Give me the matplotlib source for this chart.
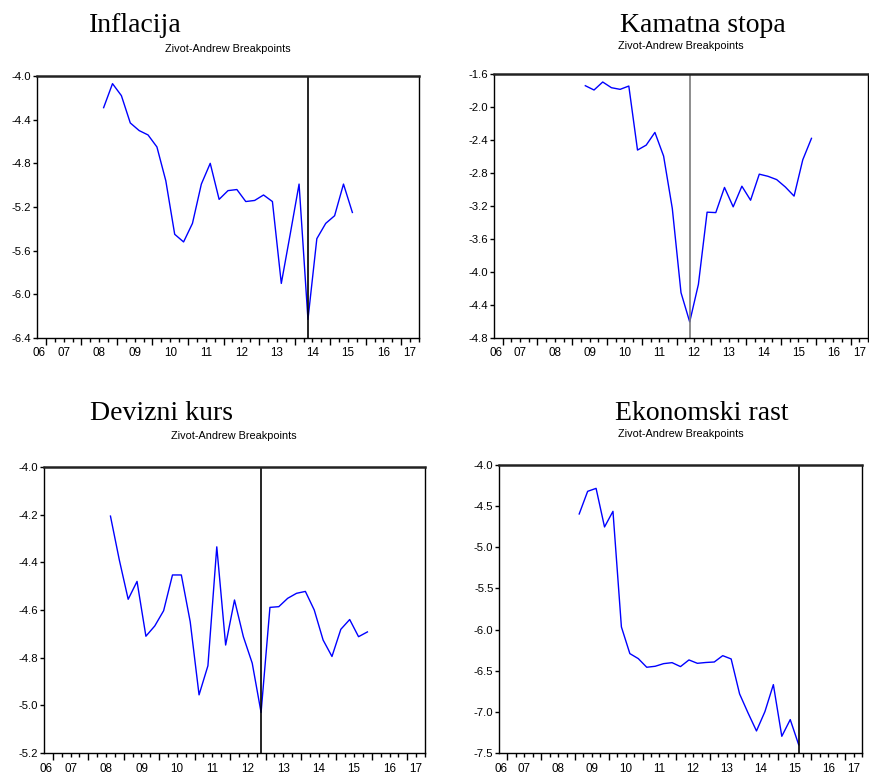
import matplotlib
matplotlib.use("Agg")
import matplotlib.pyplot as plt
import numpy as np

W, H = 869, 774
DPI = 100

# ---------------- data (quarterly, placed at quarter centres) ----------------
infl_start = 2008.625   # 2008Q3
infl = [-4.29, -4.07, -4.18, -4.43, -4.50, -4.54, -4.65, -4.96, -5.45, -5.52,
        -5.35, -4.99, -4.80, -5.13, -5.05, -5.04, -5.15, -5.14, -5.09, -5.15,
        -5.90, -5.45, -4.99, -6.23, -5.49, -5.35, -5.28, -4.99, -5.25]
infl_break = 2014.375

kam_start = 2009.375    # 2009Q2
kam = [-1.742, -1.794, -1.697, -1.766, -1.786, -1.746, -2.522, -2.462, -2.308,
       -2.595, -3.23, -4.25, -4.605, -4.15, -3.275, -3.28, -2.975, -3.21,
       -2.96, -3.13, -2.814, -2.84, -2.88, -2.97, -3.08, -2.64, -2.38]
kam_break = 2012.375

dev_start = 2008.625    # 2008Q3
dev = [-4.206, -4.39, -4.555, -4.48, -4.71, -4.667, -4.603, -4.453, -4.453,
       -4.649, -4.956, -4.834, -4.335, -4.747, -4.558, -4.712, -4.823, -5.03,
       -4.589, -4.586, -4.551, -4.53, -4.522, -4.60, -4.726, -4.795, -4.681,
       -4.64, -4.712, -4.692]
dev_break = 2012.875

eko_start = 2009.125    # 2009Q1
eko = [-4.595, -4.32, -4.284, -4.753, -4.563, -5.968, -6.292, -6.353, -6.458,
       -6.446, -6.414, -6.402, -6.45, -6.369, -6.41, -6.40, -6.394, -6.317,
       -6.357, -6.782, -7.013, -7.232, -6.997, -6.669, -7.297, -7.094, -7.40]
eko_break = 2015.625

titles = ["Inflacija", "Kamatna stopa", "Devizni kurs", "Ekonomski rast"]
subtitle = "Zivot-Andrew Breakpoints"
year_labels = ["06", "07", "08", "09", "10", "11", "12", "13", "14", "15", "16", "17"]

# ---------------- layout (pixels) ----------------
panels = [
    dict(box=(37, 76, 419, 338), ylim=(-6.4, -4.0), yticks=np.arange(-6.4, -3.99, 0.4),
         fmt="%.1f", start=infl_start, vals=infl, brk=infl_break, brkc="black",
         title_xy=(135, 32), sub_xy=(228, 49)),
    dict(box=(494, 74, 868, 338), ylim=(-4.8, -1.6), yticks=np.arange(-4.8, -1.59, 0.4),
         fmt="%.1f", start=kam_start, vals=kam, brk=kam_break, brkc="#7a7a7a",
         title_xy=(703, 32), sub_xy=(681, 46)),
    dict(box=(44, 467, 425, 753), ylim=(-5.2, -4.0), yticks=np.arange(-5.2, -3.99, 0.2),
         fmt="%.1f", start=dev_start, vals=dev, brk=dev_break, brkc="black",
         title_xy=(162, 420), sub_xy=(234, 436)),
    dict(box=(499, 465, 862, 753), ylim=(-7.5, -4.0), yticks=np.arange(-7.5, -3.99, 0.5),
         fmt="%.1f", start=eko_start, vals=eko, brk=eko_break, brkc="black",
         title_xy=(702, 420), sub_xy=(681, 434)),
]

fig = plt.figure(figsize=(W / DPI, H / DPI), dpi=DPI)

XMIN, XMAX = 2006.75, 2017.5
label_pos = [2006.8] + [y + 0.5 for y in range(2007, 2017)] + [2017.25]

for p, title in zip(panels, titles):
    l, t, r, b = p["box"]
    ax = fig.add_axes([l / W, 1 - b / H, (r - l) / W, (b - t) / H])
    vals = np.array(p["vals"])
    x = p["start"] + 0.25 * np.arange(len(vals))
    ax.plot(x, vals, color="#0000ff", lw=1.0)
    ax.axvline(p["brk"], color=p["brkc"], lw=1.2)
    ax.set_xlim(XMIN, XMAX)
    ax.set_ylim(*p["ylim"])
    ax.set_yticks(p["yticks"])
    ax.set_yticklabels([p["fmt"] % v for v in p["yticks"]])
    ax.set_xticks(np.arange(2007, 2018, 1.0))
    ax.set_xticklabels([])
    ax.set_xticks(np.arange(2007, 2017.6, 0.25), minor=True)
    ax.tick_params(axis="x", which="major", direction="out", length=5, width=1, color="black")
    ax.tick_params(axis="x", which="minor", direction="out", length=3, width=1, color="black")
    ax.tick_params(axis="y", which="major", direction="out", length=3, width=1, pad=1,
                   labelsize=8.2, labelfontfamily="Liberation Sans")
    for xl, lab in zip(label_pos, year_labels):
        ax.text(xl, -0.035, lab, transform=ax.get_xaxis_transform(), ha="center", va="top",
                fontsize=8.4, family="Liberation Sans")
    for s in ax.spines.values():
        s.set_linewidth(1.0)
        s.set_color("black")
    ax.spines["top"].set_linewidth(1.8)
    ax.spines["top"].set_color("#222222")

    tx, ty = p["title_xy"]
    fig.text(tx / W, 1 - ty / H, title, ha="center", va="baseline",
             fontsize=20, family="Liberation Serif")
    sx, sy = p["sub_xy"]
    fig.text(sx / W, 1 - sy / H, subtitle, ha="center", va="center",
             fontsize=7.8, family="Liberation Sans")

fig.savefig("out.png", dpi=DPI)
